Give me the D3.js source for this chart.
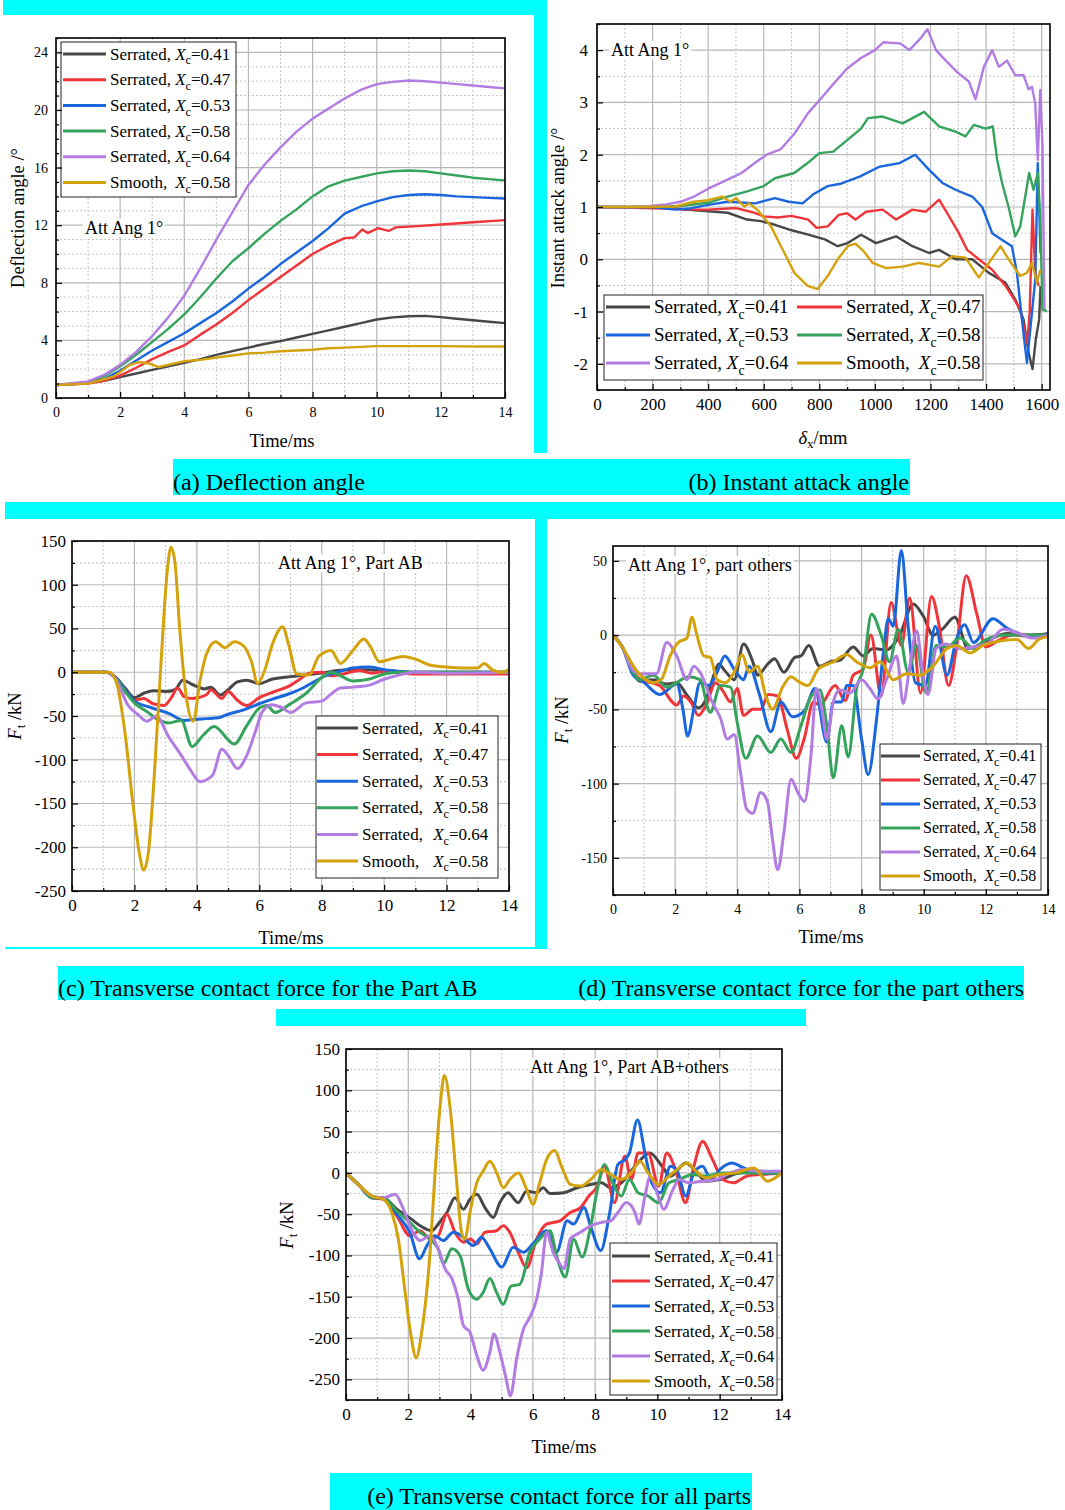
<!DOCTYPE html>
<html>
<head>
<meta charset="utf-8">
<script src="https://cdn.jsdelivr.net/npm/d3@7"></script>
<style>
  body { margin: 0; background: #fff; }
  text { font-family: "Liberation Serif", "Times New Roman", serif; }
</style>
</head>
<body>
<svg id="fig" width="1065" height="1510"></svg>
<script>
// ---------- data ----------
const seriesKinds = ['Serrated', 'Serrated', 'Serrated', 'Serrated', 'Serrated', 'Smooth'];
const seriesXc = ['0.41', '0.47', '0.53', '0.58', '0.64', '0.58'];

// (a) deflection angle [time ms, deg]
const defl041 = [[0,0.9],[0.5,0.95],[1,1.05],[1.5,1.2],[2,1.45],[2.5,1.7],[3,1.95],[3.5,2.2],[4,2.45],[4.5,2.7],[5,3.0],[5.5,3.25],[6,3.5],[6.5,3.75],[7,3.95],[7.5,4.2],[8,4.45],[8.5,4.7],[9,4.95],[9.5,5.2],[10,5.45],[10.5,5.6],[11,5.68],[11.5,5.7],[12,5.62],[12.5,5.5],[13,5.4],[13.5,5.3],[14,5.2]];
const defl047 = [[0,0.9],[1,1.0],[1.5,1.2],[2,1.55],[2.5,2.1],[3,2.7],[3.5,3.2],[4,3.65],[4.5,4.4],[5,5.1],[5.5,5.9],[6,6.8],[6.5,7.6],[7,8.4],[7.5,9.2],[8,10.0],[8.5,10.6],[9,11.1],[9.3,11.15],[9.55,11.7],[9.72,11.45],[10.04,11.8],[10.37,11.6],[10.6,11.85],[11.4,11.95],[12,12.05],[13,12.2],[14,12.35]];
const defl053 = [[0,0.9],[1,1.05],[1.5,1.3],[2,1.9],[2.5,2.6],[3,3.3],[3.5,3.9],[4,4.5],[4.5,5.2],[5,5.9],[5.5,6.7],[6,7.6],[6.5,8.4],[7,9.3],[7.5,10.1],[8,10.9],[8.5,11.8],[9,12.8],[9.5,13.3],[10,13.65],[10.5,13.95],[11,14.1],[11.5,14.15],[12,14.1],[12.5,14.0],[13,13.95],[13.5,13.9],[14,13.85]];
const defl058 = [[0,0.9],[1,1.1],[1.5,1.5],[2,2.2],[2.5,3.0],[3,3.9],[3.5,4.8],[4,5.8],[4.5,7.0],[5,8.3],[5.5,9.5],[6,10.4],[6.5,11.4],[7,12.3],[7.5,13.1],[8,14.0],[8.5,14.7],[9,15.1],[9.5,15.35],[10,15.6],[10.5,15.75],[11,15.8],[11.5,15.75],[12,15.6],[12.5,15.45],[13,15.3],[13.5,15.2],[14,15.1]];
const defl064 = [[0,0.9],[1,1.15],[1.5,1.6],[2,2.3],[2.5,3.2],[3,4.3],[3.5,5.6],[4,7.1],[4.5,9.0],[5,11.0],[5.5,12.9],[6,14.8],[6.5,16.2],[7,17.4],[7.5,18.5],[8,19.4],[8.5,20.1],[9,20.8],[9.5,21.4],[10,21.8],[10.5,21.95],[11,22.05],[11.5,22.0],[12,21.9],[12.5,21.8],[13,21.7],[13.5,21.6],[14,21.5]];
const deflSmooth = [[0,0.9],[1,1.0],[1.5,1.3],[1.8,1.5],[2,1.8],[2.3,2.3],[2.6,2.5],[2.9,2.4],[3.2,2.15],[3.5,2.3],[4,2.55],[4.5,2.65],[5,2.8],[5.5,2.95],[6,3.1],[6.5,3.15],[7,3.25],[7.5,3.3],[8,3.35],[8.5,3.45],[9,3.5],[9.5,3.55],[10,3.6],[11,3.6],[12,3.6],[13,3.58],[14,3.58]];

// (b) instant attack angle [delta_x mm, deg]
const attack041 = [[0,1.0],[250,0.98],[400,0.92],[470,0.89],[540,0.76],[590,0.73],[640,0.66],[690,0.57],[760,0.47],[820,0.38],[866,0.25],[902,0.31],[950,0.47],[1004,0.31],[1076,0.44],[1135,0.25],[1195,0.12],[1231,0.18],[1290,0.0],[1350,0.0],[1410,-0.26],[1470,-0.45],[1505,-0.77],[1535,-1.15],[1553,-1.79],[1567,-2.1],[1579,-1.53],[1591,-1.15],[1596,-0.51]];
const attack047 = [[0,1.0],[250,0.97],[350,0.95],[400,0.95],[500,0.98],[560,0.9],[600,0.82],[650,0.8],[700,0.83],[760,0.76],[790,0.6],[830,0.63],[870,0.85],[900,0.88],[930,0.76],[968,0.91],[1028,0.95],[1076,0.76],[1135,0.95],[1183,0.91],[1231,1.14],[1267,0.82],[1302,0.5],[1332,0.18],[1374,0.0],[1422,-0.2],[1470,-0.51],[1493,-0.7],[1523,-0.96],[1548,-1.6],[1557,-1.0],[1567,0.95],[1577,-0.26],[1589,-0.51]];
const attack053 = [[0,1.0],[200,1.0],[280,0.95],[330,0.97],[400,1.04],[470,1.1],[570,1.07],[640,1.17],[690,1.1],[740,1.07],[780,1.25],[830,1.4],[880,1.45],[945,1.58],[1016,1.77],[1088,1.84],[1145,2.0],[1195,1.71],[1243,1.46],[1290,1.33],[1350,1.2],[1386,1.0],[1422,0.5],[1458,0.37],[1493,0.25],[1511,-0.26],[1529,-1.15],[1547,-1.98],[1565,-1.02],[1577,-0.39],[1586,1.84],[1596,0.12]];
const attack058 = [[0,1.0],[200,1.0],[300,1.02],[400,1.08],[470,1.2],[540,1.3],[600,1.4],[640,1.55],[710,1.65],[760,1.85],[800,2.03],[850,2.06],[900,2.28],[950,2.5],[975,2.7],[1028,2.73],[1100,2.6],[1177,2.82],[1231,2.54],[1290,2.44],[1326,2.35],[1356,2.57],[1398,2.5],[1424,2.54],[1440,1.9],[1458,1.45],[1481,1.0],[1505,0.44],[1523,0.63],[1541,1.2],[1555,1.65],[1571,1.33],[1586,1.65],[1595,0.76],[1603,-0.96],[1619,-0.99]];
const attack064 = [[0,1.0],[150,1.0],[250,1.05],[300,1.1],[350,1.2],[400,1.35],[460,1.5],[520,1.65],[570,1.85],[610,2.0],[660,2.1],[710,2.4],[760,2.8],[810,3.1],[850,3.35],[900,3.65],[950,3.85],[1000,4.0],[1030,4.15],[1090,4.13],[1124,4.0],[1160,4.2],[1189,4.4],[1220,4.0],[1255,3.8],[1300,3.56],[1338,3.4],[1362,3.06],[1392,3.68],[1422,4.0],[1446,3.68],[1475,3.8],[1505,3.52],[1535,3.52],[1553,3.25],[1565,3.3],[1577,2.98],[1586,1.9],[1595,3.24],[1603,2.15],[1610,-0.95]];
const attackSmooth = [[0,1.0],[280,1.01],[350,1.1],[400,1.13],[450,1.2],[480,1.1],[500,1.17],[530,1.01],[548,1.07],[578,0.94],[626,0.63],[662,0.25],[710,-0.26],[758,-0.51],[794,-0.57],[830,-0.32],[866,0.0],[902,0.25],[930,0.3],[960,0.15],[992,-0.07],[1040,-0.17],[1100,-0.14],[1159,-0.07],[1231,-0.14],[1278,0.06],[1326,0.03],[1374,-0.35],[1410,-0.07],[1452,0.25],[1481,0.0],[1523,-0.32],[1547,-0.26],[1565,-0.07],[1583,-0.45],[1595,-0.2]];

// (c) transverse contact force, Part AB [time ms, kN]
const forceAB041 = [[0,0],[1.1,0],[1.4,-6],[1.7,-18],[2.0,-29],[2.3,-24],[2.6,-21],[3.0,-22],[3.3,-20],[3.55,-9],[3.85,-14],[4.25,-19],[4.45,-17],[4.75,-26],[5.0,-20],[5.3,-11],[5.6,-9],[6.0,-13],[6.4,-8],[7.0,-5],[7.5,-3],[8.0,-1],[8.5,2],[9.0,3],[9.5,3],[10,2],[10.5,1],[11,0],[12,0],[14,0]];
const forceAB047 = [[0,0],[1.1,0],[1.4,-6],[1.7,-20],[2.0,-32],[2.3,-30],[2.6,-36],[2.95,-38],[3.2,-28],[3.38,-18],[3.6,-28],[3.85,-30],[4.3,-26],[4.45,-20],[4.8,-30],[5.0,-22],[5.3,-32],[5.6,-38],[6.0,-29],[6.5,-22],[7.0,-15],[7.3,-8],[7.6,-1],[8.0,0],[8.3,-4],[8.7,-2],[9.2,2],[9.6,-1],[10,1],[11,-2],[12,-2],[14,-2]];
const forceAB053 = [[0,0],[1.1,0],[1.4,-6],[1.7,-20],[2.0,-33],[2.5,-40],[3.1,-47],[3.6,-55],[3.9,-54],[4.3,-53],[4.7,-52],[5.0,-48],[5.5,-43],[6.0,-36],[6.4,-31],[7.0,-24],[7.4,-18],[7.7,-12],[8.0,-6],[8.5,0],[9.0,5],[9.5,6],[10,3],[10.5,1],[11,0],[14,0]];
const forceAB058 = [[0,0],[1.1,0],[1.4,-7],[1.7,-22],[2.0,-35],[2.4,-45],[2.8,-55],[3.1,-58],[3.5,-55],[3.85,-85],[4.2,-72],[4.55,-62],[5.2,-82],[5.6,-61],[6.0,-41],[6.25,-38],[6.5,-46],[7.0,-36],[7.5,-24],[8.0,-6],[8.3,0],[8.6,-4],[9.0,-10],[9.5,-8],[10,-2],[10.5,0],[14,0]];
const forceAB064 = [[0,0],[1.1,0],[1.4,-8],[1.8,-38],[2.1,-48],[2.4,-56],[2.7,-50],[3.1,-74],[3.5,-95],[3.8,-112],[4.1,-125],[4.5,-118],[4.8,-88],[5.0,-95],[5.3,-110],[5.6,-95],[5.9,-65],[6.1,-45],[6.4,-37],[6.7,-40],[7.0,-46],[7.5,-35],[8.0,-33],[8.3,-25],[8.6,-18],[9.0,-17],[9.5,-15],[10,-8],[10.5,-3],[11,0],[12,-1],[14,0]];
const forceABSmooth = [[0,0],[1.2,0],[1.45,-15],[1.7,-70],[1.95,-150],[2.15,-205],[2.3,-226],[2.45,-205],[2.65,-110],[2.85,10],[3.05,115],[3.17,143],[3.3,125],[3.45,50],[3.65,-25],[3.88,-56],[4.1,-10],[4.3,20],[4.6,35],[4.9,28],[5.2,35],[5.5,30],[5.75,12],[5.95,-13],[6.15,0],[6.45,35],[6.75,52],[6.95,30],[7.2,-2],[7.6,-3],[7.9,18],[8.3,25],[8.6,10],[9.0,25],[9.35,38],[9.55,30],[9.85,12],[10.2,15],[10.6,18],[11.0,15],[11.5,8],[12,6],[12.5,5],[13,5],[13.2,10],[13.5,2],[13.8,0],[14,3]];

// (d) transverse contact force, part others [time ms, kN]
const forceOth041 = [[0,0],[0.3,-8],[0.65,-25],[0.86,-31],[1.3,-30],[1.7,-33],[2.05,-32],[2.4,-41],[2.75,-49],[3.0,-43],[3.2,-30],[3.4,-19.5],[3.6,-24],[3.9,-30],[4.2,-6],[4.5,-18],[4.65,-27],[5.0,-19],[5.2,-16],[5.5,-25],[5.85,-15],[6.05,-14],[6.3,-7],[6.65,-21],[6.98,-18],[7.3,-17],[7.73,-8],[8.05,-14],[8.37,-9],[8.8,-10],[9.23,0],[9.66,21],[9.98,13],[10.3,0],[10.6,4],[11.0,12],[11.43,-9],[12.1,-3],[12.7,1],[13.3,0],[14,1]];
const forceOth047 = [[0,0],[0.3,-8],[0.65,-25],[0.9,-30],[1.5,-34],[2.05,-47],[2.27,-41],[2.5,-45],[2.75,-54],[3.0,-47],[3.3,-32],[3.55,-38],[3.78,-45],[4.0,-36],[4.2,-54],[4.5,-50],[4.75,-50],[5.0,-40],[5.3,-41],[5.6,-63],[5.9,-83],[6.15,-70],[6.45,-45],[6.66,-47],[7.15,-34],[7.47,-44],[7.73,-27],[8.05,-23],[8.3,0],[8.63,-41],[8.95,22],[9.28,-7],[9.55,25],[9.9,-39],[10.25,26],[10.5,6],[10.8,-34],[11.05,-9],[11.37,40],[11.7,15],[12.0,-8],[12.45,-3],[12.87,0],[13.5,-1],[14,1]];
const forceOth053 = [[0,0],[0.3,-8],[0.65,-27],[1.0,-32],[1.5,-40],[2.05,-33],[2.25,-50],[2.4,-68],[2.6,-50],[2.8,-32],[3.1,-34],[3.35,-25],[3.6,-14],[3.9,-23],[4.2,-30],[4.38,-21],[4.7,-39],[5.08,-65],[5.4,-45],[5.78,-55],[6.16,-51],[6.5,-36],[6.88,-72],[7.09,-45],[7.36,-45],[7.52,-34],[7.73,-34],[8.0,-70],[8.21,-94],[8.48,-57],[8.7,-12],[8.86,11],[9.02,6],[9.28,57],[9.5,6],[9.73,-32],[10.05,-34],[10.37,6],[10.75,-27],[11.05,-3],[11.32,7],[11.6,-5],[12.23,11],[12.66,5],[13.2,0],[13.6,-1],[14,1]];
const forceOth058 = [[0,0],[0.3,-8],[0.65,-25],[0.86,-30],[1.3,-27],[1.73,-35],[2.05,-32],[2.43,-28],[2.8,-30],[3.13,-52],[3.46,-34],[3.78,-35],[4.0,-59],[4.27,-83],[4.65,-68],[5.08,-79],[5.4,-70],[5.73,-79],[6.05,-61],[6.38,-41],[6.66,-37],[6.88,-61],[7.09,-96],[7.36,-61],[7.57,-82],[7.84,-36],[8.05,-23],[8.32,14],[8.63,0],[8.9,-18],[9.18,4],[9.5,-25],[9.76,-7],[10.08,-39],[10.4,-7],[10.75,-8],[11.17,-2],[11.6,-9],[12.0,-3],[12.66,0],[14,0]];
const forceOth064 = [[0,0],[0.3,-8],[0.65,-24],[0.86,-26],[1.4,-26],[1.73,-5],[2.05,-14],[2.38,-30],[2.6,-21],[2.8,-25],[3.19,-45],[3.46,-56],[3.68,-70],[3.9,-67],[4.1,-92],[4.3,-117],[4.5,-120],[4.75,-106],[4.97,-112],[5.13,-137],[5.3,-158],[5.5,-133],[5.73,-97],[5.95,-106],[6.16,-112],[6.38,-79],[6.54,-36],[6.72,-50],[6.88,-70],[7.09,-45],[7.3,-37],[7.63,-39],[8.0,-30],[8.27,-36],[8.53,-43],[8.8,-30],[9.13,-14],[9.34,-46],[9.55,-21],[9.77,3],[9.98,-27],[10.14,-40],[10.4,-9],[10.7,-6],[11.17,-9],[11.6,-8],[12.1,-5],[12.55,4],[13.1,1],[13.5,-2],[14,0]];
const forceOthSmooth = [[0,0],[0.3,-8],[0.76,-24],[1.3,-32],[1.55,-30],[1.84,-14],[2.1,-5],[2.38,-2],[2.54,12],[2.7,0],[2.92,-14],[3.13,-15],[3.35,-30],[3.62,-32],[3.9,-25],[4.16,-13],[4.38,-25],[4.65,-21],[4.92,-41],[5.13,-50],[5.46,-35],[5.73,-28],[5.95,-31],[6.27,-34],[6.6,-23],[7.09,-18],[7.52,-13],[7.84,-18],[8.27,-22],[8.6,-18],[9.02,-30],[9.45,-26],[9.87,-27],[10.3,-21],[10.75,-9],[11.05,-7],[11.5,-12],[11.9,-7],[12.45,-4],[13.0,-3],[13.37,-9],[13.7,-3],[14,-1]];

// (e) transverse contact force, all parts [time ms, kN]
const forceAll041 = [[0,0],[0.45,-16],[0.83,-30],[1.2,-30],[1.63,-44],[2.1,-56],[2.38,-64],[2.75,-70],[3.0,-60],[3.24,-48],[3.5,-30],[3.77,-44],[3.98,-32],[4.2,-26],[4.46,-42],[4.73,-54],[4.94,-36],[5.2,-24],[5.53,-36],[5.8,-22],[6.12,-24],[6.33,-18],[6.55,-25],[7.0,-24],[7.42,-18],[7.86,-14],[8.2,-12],[8.5,-18],[8.84,-12],[9.28,8],[9.76,24],[10.15,8],[10.42,-4],[10.91,12],[11.24,2],[11.56,-10],[12.0,-8],[12.65,0],[13.3,2],[14,0]];
const forceAll047 = [[0,0],[0.45,-16],[0.83,-30],[1.2,-32],[1.63,-52],[2.05,-76],[2.38,-70],[2.7,-80],[2.96,-76],[3.24,-50],[3.5,-72],[3.77,-84],[4.0,-80],[4.2,-86],[4.46,-72],[4.83,-70],[5.05,-64],[5.26,-72],[5.53,-96],[5.8,-115],[6.12,-80],[6.44,-62],[6.87,-58],[7.2,-48],[7.53,-42],[7.8,-28],[8.07,-16],[8.3,8],[8.62,-36],[8.95,20],[9.16,-8],[9.38,24],[9.7,24],[10.04,-16],[10.3,24],[10.58,4],[10.9,-36],[11.17,8],[11.45,38],[11.77,16],[12.1,-8],[12.44,-12],[12.86,-4],[13.3,-2],[14,0]];
const forceAll053 = [[0,0],[0.45,-16],[0.83,-30],[1.2,-30],[1.63,-50],[2.05,-72],[2.36,-104],[2.6,-88],[2.85,-76],[3.12,-82],[3.45,-72],[3.7,-76],[4.09,-88],[4.35,-78],[4.62,-92],[5.0,-114],[5.37,-90],[5.7,-96],[6.0,-86],[6.44,-70],[6.76,-96],[7.1,-58],[7.31,-62],[7.64,-42],[7.85,-64],[8.18,-94],[8.45,-52],[8.73,10],[8.95,16],[9.1,24],[9.36,64],[9.6,24],[9.82,-12],[10.1,-24],[10.42,8],[10.64,2],[10.91,-28],[11.17,0],[11.45,8],[11.72,-8],[12.0,4],[12.39,12],[12.77,6],[13.2,0],[14,0]];
const forceAll058 = [[0,0],[0.45,-16],[0.83,-30],[1.2,-30],[1.63,-46],[2.05,-60],[2.38,-72],[2.7,-80],[2.96,-92],[3.13,-110],[3.4,-92],[3.66,-100],[3.93,-141],[4.2,-153],[4.4,-145],[4.62,-128],[4.84,-145],[5.05,-159],[5.3,-137],[5.58,-135],[5.9,-96],[6.22,-80],[6.55,-70],[6.76,-100],[7.04,-126],[7.31,-80],[7.58,-102],[7.86,-64],[8.07,-20],[8.3,10],[8.56,-12],[8.84,-28],[9.1,-8],[9.38,-24],[9.7,-28],[10.04,-36],[10.37,-12],[10.7,-8],[11.13,-2],[11.56,-4],[12.1,0],[14,0]];
const forceAll064 = [[0,0],[0.45,-16],[0.83,-28],[1.2,-30],[1.58,-26],[1.8,-40],[2.05,-64],[2.38,-82],[2.7,-76],[3.0,-96],[3.18,-116],[3.4,-128],[3.6,-152],[3.77,-185],[3.98,-193],[4.2,-221],[4.4,-239],[4.62,-217],[4.75,-195],[4.94,-217],[5.14,-249],[5.28,-270],[5.48,-225],[5.7,-189],[5.9,-175],[6.12,-153],[6.28,-120],[6.44,-72],[6.65,-96],[6.86,-110],[7.0,-116],[7.2,-80],[7.53,-72],[7.86,-64],[8.2,-60],[8.5,-58],[8.73,-48],[9.0,-36],[9.28,-48],[9.41,-62],[9.6,-28],[9.77,-4],[9.99,-24],[10.2,-44],[10.5,-20],[10.7,-8],[11.0,-12],[11.45,-10],[11.9,-8],[12.33,0],[12.77,4],[13.3,2],[14,2]];
const forceAllSmooth = [[0,0],[0.45,-16],[0.83,-28],[1.2,-32],[1.47,-48],[1.68,-80],[1.9,-145],[2.1,-200],[2.25,-224],[2.43,-193],[2.7,-96],[2.86,0],[3.02,80],[3.16,118],[3.34,80],[3.53,0],[3.71,-72],[3.82,-80],[3.98,-48],[4.2,-12],[4.4,2],[4.62,14],[4.84,0],[5.05,-18],[5.26,-8],[5.53,0],[5.8,-20],[6.0,-38],[6.22,-12],[6.44,16],[6.7,27],[6.92,8],[7.2,-14],[7.53,-16],[7.86,-8],[8.2,4],[8.5,-2],[8.84,-8],[9.16,0],[9.44,14],[9.7,0],[10.04,-14],[10.37,-4],[10.7,6],[10.96,12],[11.24,2],[11.56,-6],[12.0,-2],[12.5,0],[13.1,6],[13.53,-10],[13.86,-4],[14,0]];

// ---------- styles ----------
const lineColors = ['#474747', '#f0353a', '#1a66dc', '#35a35c', '#b27ce2', '#d4a20c'];
const serif = '"Liberation Serif", "Times New Roman", serif';
const sans = '"Liberation Sans", Arial, sans-serif';
const cyan = '#00ffff';

const svg = d3.select('#fig');
svg.append('rect').attr('width', 1065).attr('height', 1510).attr('fill', '#fff');

// cyan highlight bands behind the sub-figures
const bands = [
  [3, 0, 544, 15], [534, 0, 13, 453], [173, 459, 737, 36],
  [5, 502, 1060, 17], [535, 519, 12, 429], [5, 947, 542, 2],
  [58, 966, 966, 34], [276, 1009, 530, 17], [330, 1473, 422, 37]
];
svg.append('g').selectAll('rect').data(bands).join('rect')
  .attr('x', d => d[0]).attr('y', d => d[1])
  .attr('width', d => d[2]).attr('height', d => d[3])
  .attr('fill', cyan);

const captions = [
  { text: '(a) Deflection angle', x: 173, y: 490, anchor: 'start' },
  { text: '(b) Instant attack angle', x: 909, y: 490, anchor: 'end' },
  { text: '(c) Transverse contact force for the Part AB', x: 58, y: 996, anchor: 'start' },
  { text: '(d) Transverse contact force for the part others', x: 1024, y: 996, anchor: 'end' },
  { text: '(e) Transverse contact force for all parts', x: 751, y: 1504, anchor: 'end' }
];
svg.append('g').selectAll('text').data(captions).join('text')
  .attr('x', d => d.x).attr('y', d => d.y)
  .attr('text-anchor', d => d.anchor)
  .attr('font-size', 24).attr('fill', '#000')
  .text(d => d.text);

let clipId = 0;

function stepValues(domain, step) {
  const out = [];
  const start = Math.ceil(domain[0] / step - 1e-9) * step;
  for (let v = start; v <= domain[1] + 1e-9; v += step) out.push(+v.toFixed(6));
  return out;
}

function addLegendText(t, i, fs) {
  t.append('tspan').attr('class', 'pre').text(seriesKinds[i] + ', ');
  t.append('tspan').attr('class', 'xc').attr('font-style', 'italic').text('X');
  t.append('tspan').attr('font-size', fs * 0.72).attr('dy', fs * 0.28).text('c');
  t.append('tspan').attr('dy', -fs * 0.28).text('=' + seriesXc[i]);
}

function drawPanel(p) {
  const g = svg.append('g');
  const [L, T, R, B] = p.box;
  const x = d3.scaleLinear().domain(p.xDomain).range([L, R]);
  const y = d3.scaleLinear().domain(p.yDomain).range([B, T]);

  const xMaj = stepValues(p.xDomain, p.xMajor);
  const yMaj = stepValues(p.yDomain, p.yMajor);
  const xMin = stepValues(p.xDomain, p.xMinor).filter(v => !xMaj.includes(v));
  const yMin = stepValues(p.yDomain, p.yMinor).filter(v => !yMaj.includes(v));

  // grid
  const grid = g.append('g');
  grid.selectAll('.gx').data(xMin).join('line')
    .attr('x1', d => x(d)).attr('x2', d => x(d)).attr('y1', T).attr('y2', B)
    .attr('stroke', '#c4c4c4').attr('stroke-dasharray', '2,2');
  grid.selectAll('.gy').data(yMin).join('line')
    .attr('y1', d => y(d)).attr('y2', d => y(d)).attr('x1', L).attr('x2', R)
    .attr('stroke', '#c4c4c4').attr('stroke-dasharray', '2,2');
  grid.selectAll('.gX').data(xMaj).join('line')
    .attr('x1', d => x(d)).attr('x2', d => x(d)).attr('y1', T).attr('y2', B)
    .attr('stroke', '#b8b8b8').attr('stroke-width', 1.2);
  grid.selectAll('.gY').data(yMaj).join('line')
    .attr('y1', d => y(d)).attr('y2', d => y(d)).attr('x1', L).attr('x2', R)
    .attr('stroke', '#b8b8b8').attr('stroke-width', 1.2);

  // curves
  const cid = 'clip' + (clipId++);
  g.append('clipPath').attr('id', cid).append('rect')
    .attr('x', L).attr('y', T).attr('width', R - L).attr('height', B - T);
  const line = d3.line().x(d => x(d[0])).y(d => y(d[1])).curve(p.curve);
  g.append('g').attr('clip-path', `url(#${cid})`)
    .selectAll('path').data(p.series).join('path')
    .attr('d', line)
    .attr('fill', 'none')
    .attr('stroke', (d, i) => lineColors[i])
    .attr('stroke-width', p.lineWidth)
    .attr('stroke-linejoin', 'round');

  // annotation with white backing
  const note = g.append('text')
    .attr('x', p.note.x).attr('y', p.note.y)
    .attr('font-size', 18).text(p.note.text);
  const nb = note.node().getBBox();
  g.insert('rect', () => note.node())
    .attr('x', nb.x - 2).attr('y', nb.y + 1)
    .attr('width', nb.width + 4).attr('height', nb.height - 2)
    .attr('fill', '#fff');

  // legend
  const lg = p.legend;
  const leg = g.append('g');
  leg.append('rect')
    .attr('x', lg.box[0]).attr('y', lg.box[1]).attr('width', lg.box[2]).attr('height', lg.box[3])
    .attr('fill', '#fff').attr('stroke', '#222').attr('stroke-width', 1);
  const nCols = lg.cols.length;
  const rows = p.series.map((s, i) => {
    const col = lg.cols[i % nCols];
    const ry = lg.rowY + Math.floor(i / nCols) * lg.rowStep;
    leg.append('line')
      .attr('x1', col.line[0]).attr('x2', col.line[1]).attr('y1', ry).attr('y2', ry)
      .attr('stroke', lineColors[i]).attr('stroke-width', 3);
    const t = leg.append('text')
      .attr('x', col.text).attr('y', ry)
      .attr('dy', '0.33em')
      .attr('font-size', lg.fontSize)
      .style('white-space', 'pre');
    addLegendText(t, i, lg.fontSize);
    return { t, col };
  });
  let preW = 0;
  rows.forEach(r => { preW = Math.max(preW, r.t.select('.pre').node().getComputedTextLength()); });
  rows.forEach(r => r.t.select('.xc').attr('x', r.col.text + preW + lg.gap));

  // axes: inward ticks
  const fmt = d => String(d);
  const yAxis = g.append('g').attr('transform', `translate(${L},0)`)
    .call(d3.axisLeft(y).tickValues(yMaj).tickSize(-6).tickPadding(p.yPad).tickFormat(fmt));
  g.append('g').attr('transform', `translate(${L},0)`)
    .call(d3.axisLeft(y).tickValues(yMin).tickSize(-3).tickFormat(''));
  const xAxis = g.append('g').attr('transform', `translate(0,${B})`)
    .call(d3.axisBottom(x).tickValues(xMaj.filter(v => v <= p.xLabelMax)).tickSize(-6).tickPadding(p.xPad).tickFormat(fmt));
  g.append('g').attr('transform', `translate(0,${B})`)
    .call(d3.axisBottom(x).tickValues(xMin).tickSize(-3).tickFormat(''));
  g.selectAll('.domain').remove();
  g.selectAll('.tick line').attr('stroke', '#000').attr('stroke-width', 1.2);
  [yAxis, xAxis].forEach(a => a.selectAll('text')
    .attr('font-family', p.tickFont).attr('font-size', p.tickSize).attr('fill', '#000'));

  // frame
  g.append('rect').attr('x', L).attr('y', T).attr('width', R - L).attr('height', B - T)
    .attr('fill', 'none').attr('stroke', '#000').attr('stroke-width', 1.6);

  // axis titles
  const xt = g.append('text').attr('x', p.xTitle.x).attr('y', p.xTitle.y)
    .attr('text-anchor', 'middle').attr('font-size', 18.5);
  p.xTitle.build(xt);
  const yt = g.append('text')
    .attr('transform', `translate(${p.yTitle.x},${p.yTitle.y}) rotate(-90)`)
    .attr('text-anchor', 'middle').attr('dy', '0.35em').attr('font-size', 18.5);
  p.yTitle.build(yt);
}

const timeTitle = t => t.text('Time/ms');
const forceTitle = t => {
  t.append('tspan').attr('font-style', 'italic').text('F');
  t.append('tspan').attr('font-size', 13).attr('dy', 4).text('t');
  t.append('tspan').attr('dy', -4).style('white-space', 'pre').text(' /kN');
};
const stdLegendCols = (l0, l1, tx) => [{ line: [l0, l1], text: tx }];

// (a)
drawPanel({
  box: [56, 38, 505, 398], xDomain: [0, 14], yDomain: [0, 25],
  xMajor: 2, xMinor: 1, yMajor: 4, yMinor: 1, xLabelMax: 14,
  series: [defl041, defl047, defl053, defl058, defl064, deflSmooth],
  curve: d3.curveLinear, lineWidth: 2.4,
  tickFont: sans, tickSize: 14, yPad: 8, xPad: 9,
  note: { text: 'Att Ang 1°', x: 85, y: 234 },
  legend: { box: [61, 42, 175, 155], cols: stdLegendCols(63, 106, 110), rowY: 54, rowStep: 25.7, fontSize: 17, gap: 0 },
  xTitle: { x: 282, y: 447, build: timeTitle },
  yTitle: { x: 18, y: 218, build: t => t.text('Deflection angle /°') }
});

// (b)
drawPanel({
  box: [597, 24, 1050, 390], xDomain: [0, 1630], yDomain: [-2.5, 4.5],
  xMajor: 200, xMinor: 100, yMajor: 1, yMinor: 0.5, xLabelMax: 1600,
  series: [attack041, attack047, attack053, attack058, attack064, attackSmooth],
  curve: d3.curveLinear, lineWidth: 2.4,
  tickFont: serif, tickSize: 17, yPad: 9, xPad: 8,
  note: { text: 'Att Ang 1°', x: 611, y: 56 },
  legend: { box: [604, 295, 379, 85], cols: [{ line: [606, 650], text: 654 }, { line: [797, 842], text: 846 }], rowY: 307, rowStep: 28, fontSize: 19, gap: 0 },
  xTitle: { x: 823, y: 444, build: t => {
    t.append('tspan').attr('font-style', 'italic').text('δ');
    t.append('tspan').attr('font-size', 13).attr('dy', 4).text('x');
    t.append('tspan').attr('dy', -4).text('/mm');
  } },
  yTitle: { x: 558, y: 208, build: t => t.text('Instant attack angle /°') }
});

// (c)
drawPanel({
  box: [72, 541, 509, 891], xDomain: [0, 14], yDomain: [-250, 150],
  xMajor: 2, xMinor: 1, yMajor: 50, yMinor: 25, xLabelMax: 14,
  series: [forceAB041, forceAB047, forceAB053, forceAB058, forceAB064, forceABSmooth],
  curve: d3.curveMonotoneX, lineWidth: 3,
  tickFont: serif, tickSize: 17, yPad: 6, xPad: 8,
  note: { text: 'Att Ang 1°, Part AB', x: 278, y: 569 },
  legend: { box: [316, 716, 182, 162], cols: stdLegendCols(317, 358, 362), rowY: 728, rowStep: 26.6, fontSize: 17, gap: 6 },
  xTitle: { x: 291, y: 944, build: timeTitle },
  yTitle: { x: 15, y: 716, build: forceTitle }
});

// (d)
drawPanel({
  box: [613, 546, 1048, 895], xDomain: [0, 14], yDomain: [-175, 60],
  xMajor: 2, xMinor: 1, yMajor: 50, yMinor: 25, xLabelMax: 14,
  series: [forceOth041, forceOth047, forceOth053, forceOth058, forceOth064, forceOthSmooth],
  curve: d3.curveMonotoneX, lineWidth: 3,
  tickFont: sans, tickSize: 14, yPad: 6, xPad: 9,
  note: { text: 'Att Ang 1°, part others', x: 628, y: 571 },
  legend: { box: [880, 744, 161, 146], cols: stdLegendCols(881, 920, 923), rowY: 756, rowStep: 24, fontSize: 16, gap: 0 },
  xTitle: { x: 831, y: 943, build: timeTitle },
  yTitle: { x: 562, y: 720, build: forceTitle }
});

// (e)
drawPanel({
  box: [346, 1049, 782, 1400], xDomain: [0, 14], yDomain: [-275, 150],
  xMajor: 2, xMinor: 1, yMajor: 50, yMinor: 25, xLabelMax: 14,
  series: [forceAll041, forceAll047, forceAll053, forceAll058, forceAll064, forceAllSmooth],
  curve: d3.curveMonotoneX, lineWidth: 3,
  tickFont: serif, tickSize: 17, yPad: 6, xPad: 8,
  note: { text: 'Att Ang 1°, Part AB+others', x: 530, y: 1073 },
  legend: { box: [610, 1243, 167, 152], cols: stdLegendCols(612, 650, 654), rowY: 1256, rowStep: 25, fontSize: 17, gap: 0 },
  xTitle: { x: 564, y: 1453, build: timeTitle },
  yTitle: { x: 287, y: 1225, build: forceTitle }
});
</script>
</body>
</html>
